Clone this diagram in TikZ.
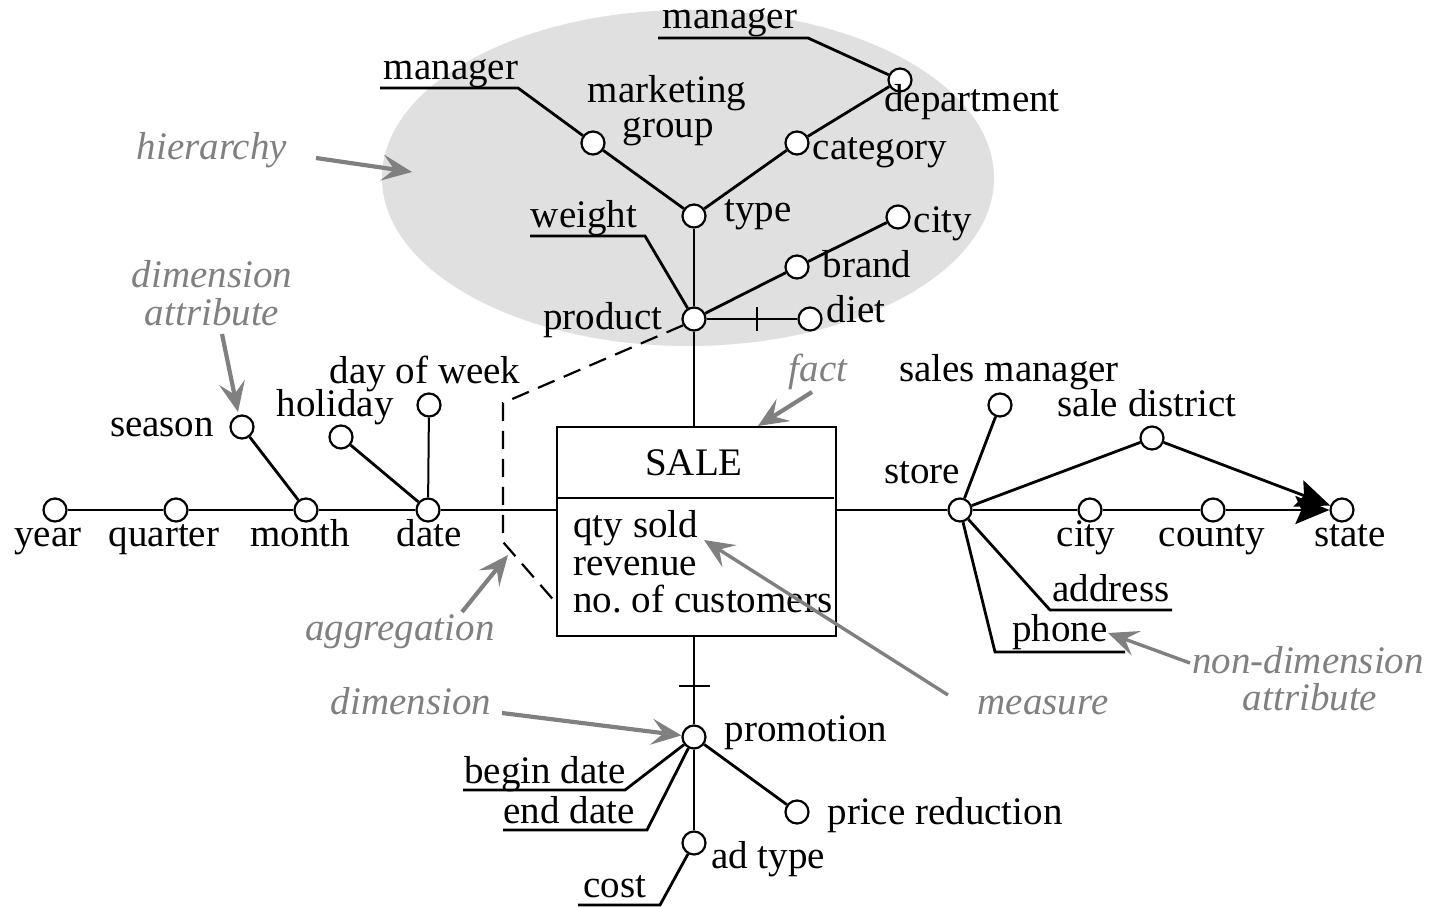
\documentclass[tikz,border=0pt]{standalone}
\usepackage{fontspec}
\setmainfont{Liberation Serif}
\usetikzlibrary{arrows.meta}
\definecolor{notegray}{RGB}{128,128,128}
\definecolor{ellgray}{RGB}{224,224,224}
\begin{document}
\begin{tikzpicture}[x=0.5pt,y=-0.5pt,
  att/.style={circle,draw,line width=1.1pt,fill=white,inner sep=0pt,minimum size=11.5pt},
  ln/.style={line width=1.4pt},
  thin/.style={line width=1pt},
  txt/.style={font=\fontsize{19.5}{18}\selectfont,inner sep=0pt,anchor=base},
  note/.style={text=notegray,font=\itshape\fontsize{19.5}{18.5}\selectfont,inner sep=0pt,anchor=base},
  garrow/.style={draw=notegray,line width=2.1pt,-{Stealth[length=15pt,width=13pt,inset=6pt]}},
  barrow/.style={ln,-{Stealth[length=17pt,width=14pt,inset=3pt]}}
]
\useasboundingbox (0,0) rectangle (1444,908);
% hierarchy ellipse
\fill[ellgray] (688,178) ellipse [x radius=153pt, y radius=84pt];

% fact box
\node[draw,line width=1.4pt,inner sep=0pt,minimum width=139.5pt,minimum height=104.5pt] (sale) at (696.5,531.5) {};
\coordinate (divL) at (557,498);
\coordinate (divR) at (834,498);
\draw[ln] (divL) -- (divR);
\node[txt] (saleT) at (694,475) {SALE};
\node[txt,anchor=base west] (m1) at (573,537) {qty sold};
\node[txt,anchor=base west] (m2) at (573,575) {revenue};
\node[txt,anchor=base west] (m3) at (573,612) {no.\ of customers};

% product hierarchy
\node[att] (product) at (694,319) {};
\node[att] (type) at (694,216) {};
\node[att] (mgroup) at (593,143) {};
\node[att] (category) at (797,143) {};
\node[att] (department) at (900,80) {};
\node[att] (brand) at (797,267) {};
\node[att] (pcity) at (898,217) {};
\node[att] (diet) at (810,319) {};

\coordinate (man1a) at (518,88);
\coordinate (man1b) at (380,88);
\coordinate (man2a) at (808,38);
\coordinate (man2b) at (658,38);
\coordinate (wa) at (645,236);
\coordinate (wb) at (530,236);
\draw[ln] (mgroup) -- (man1a) -- (man1b);
\draw[ln] (department) -- (man2a) -- (man2b);
\draw[ln] (product) -- (wa) -- (wb);
\draw[ln] (product) -- (type);
\draw[ln] (type) -- (mgroup);
\draw[ln] (type) -- (category) -- (department);
\draw[ln] (product) -- (brand) -- (pcity);
\draw[ln] (product) -- (diet);
\coordinate (dtA) at (757,307);
\coordinate (dtB) at (757,331);
\draw[ln] (dtA) -- (dtB);

\node[txt] (man1T) at (451,80) {manager};
\node[txt] (man2T) at (730,29) {manager};
\node[txt] (mgT1) at (667,103) {marketing};
\node[txt] (mgT2) at (668,138) {group};
\node[txt] (deptT) at (972,112) {department};
\node[txt] (catT) at (880,160) {category};
\node[txt] (typeT) at (758,222) {type};
\node[txt] (weightT) at (584,228) {weight};
\node[txt] (pcityT) at (943,233) {city};
\node[txt] (brandT) at (867,278) {brand};
\node[txt] (dietT) at (856,323) {diet};
\node[txt] (productT) at (603,330) {product};

\draw[ln] (product) -- (product |- sale.north);

% aggregation dashed line
\coordinate (ag1) at (503,403);
\coordinate (ag2) at (503,542);
\coordinate (ag3) at (557,604);
\draw[line width=1.1pt,dash pattern=on 9pt off 5pt] (product.210) -- (ag1) -- (ag2) -- (ag3);

% time dimension
\node[att] (year) at (55,510) {};
\node[att] (quarter) at (176,510) {};
\node[att] (month) at (306,510) {};
\node[att] (date) at (428,510) {};
\node[att] (season) at (242,427) {};
\node[att] (holiday) at (341,437) {};
\node[att] (dow) at (429,405) {};
\draw[thin] (year) -- (quarter) -- (month) -- (date) -- (sale.west |- date);
\draw[ln] (season) -- (month);
\draw[ln] (holiday) -- (date);
\draw[thin] (dow) -- (date);
\node[txt] (yearT) at (48,546) {year};
\node[txt] (quarterT) at (164,546) {quarter};
\node[txt] (monthT) at (300,546) {month};
\node[txt] (dateT) at (429,546) {date};
\node[txt] (seasonT) at (162,437) {season};
\node[txt] (holidayT) at (335,417) {holiday};
\node[txt] (dowT) at (425,384) {day of week};

% store dimension
\node[att] (store) at (960,510) {};
\node[att] (scity) at (1090,510) {};
\node[att] (county) at (1213,510) {};
\node[att] (state) at (1342,510) {};
\node[att] (district) at (1152,438) {};
\node[att] (smanager) at (1000,405) {};
\draw[ln] (sale.east |- store) -- (store);
\draw[ln] (store) -- (scity) -- (county);
\draw[barrow] (county) -- (state);
\draw[ln] (store) -- (district);
\draw[barrow] (district) -- (state);
\draw[ln] (store) -- (smanager);
\coordinate (adA) at (1050,610);
\coordinate (adB) at (1172,610);
\coordinate (phA) at (995,652);
\coordinate (phB) at (1125,652);
\draw[ln] (store) -- (adA) -- (adB);
\draw[ln] (store) -- (phA) -- (phB);
\node[txt] (storeT) at (922,483) {store};
\node[txt] (scityT) at (1086,546) {city};
\node[txt] (countyT) at (1212,546) {county};
\node[txt] (stateT) at (1350,546) {state};
\node[txt] (districtT) at (1147,417) {sale district};
\node[txt] (smanagerT) at (1009,382) {sales manager};
\node[txt] (addressT) at (1111,601) {address};
\node[txt] (phoneT) at (1060,641) {phone};

% promotion dimension
\node[att] (promotion) at (694,737) {};
\node[att] (price) at (797,812) {};
\node[att] (adtype) at (694,843) {};
\draw[thin] (product |- sale.south) -- (promotion);
\coordinate (ptA) at (679,686);
\coordinate (ptB) at (710,686);
\draw[ln] (ptA) -- (ptB);
\draw[ln] (promotion) -- (price);
\draw[thin] (promotion) -- (adtype);
\coordinate (bdA) at (625,790);
\coordinate (bdB) at (463,790);
\coordinate (edA) at (647,830);
\coordinate (edB) at (503,830);
\coordinate (coA) at (660,905);
\coordinate (coB) at (578,905);
\draw[ln] (promotion) -- (bdA) -- (bdB);
\draw[ln] (promotion) -- (edA) -- (edB);
\draw[ln] (adtype) -- (coA) -- (coB);
\node[txt] (promotionT) at (806,741) {promotion};
\node[txt] (priceT) at (945,824) {price reduction};
\node[txt] (adtypeT) at (768,868) {ad type};
\node[txt] (beginT) at (545,783) {begin date};
\node[txt] (endT) at (569,823) {end date};
\node[txt] (costT) at (615,897) {cost};

% annotations
\node[note] (hierN) at (212,160) {hierarchy};
\node[note] (dimattN1) at (212,288) {dimension};
\node[note] (dimattN2) at (212,326) {attribute};
\node[note] (factN) at (818,382) {fact};
\node[note] (aggN) at (400,640) {aggregation};
\node[note] (dimN) at (411,714) {dimension};
\node[note] (measN) at (1043,714) {measure};
\node[note] (ndaN1) at (1308,673) {non-dimension};
\node[note] (ndaN2) at (1310,710) {attribute};

\coordinate (hierS) at (316,158);
\coordinate (hierE) at (412,172);
\coordinate (dimattS) at (222,334);
\coordinate (dimattE) at (238,412);
\coordinate (factS) at (812,392);
\coordinate (factE) at (758,426);
\coordinate (aggS) at (462,612);
\coordinate (aggE) at (508,555);
\coordinate (dimS) at (502,713);
\coordinate (measS) at (948,695);
\coordinate (measE) at (704,540);
\coordinate (ndaS) at (1190,663);
\coordinate (ndaE) at (1108,633);
\draw[garrow] (hierS) -- (hierE);
\draw[garrow] (dimattS) -- (dimattE);
\draw[garrow] (factS) -- (factE);
\draw[garrow] (aggS) -- (aggE);
\draw[garrow] (dimS) -- (promotion);
\draw[garrow,line width=1.7pt] (measS) -- (measE);
\draw[garrow,line width=1.7pt] (ndaS) -- (ndaE);
\end{tikzpicture}
\end{document}
